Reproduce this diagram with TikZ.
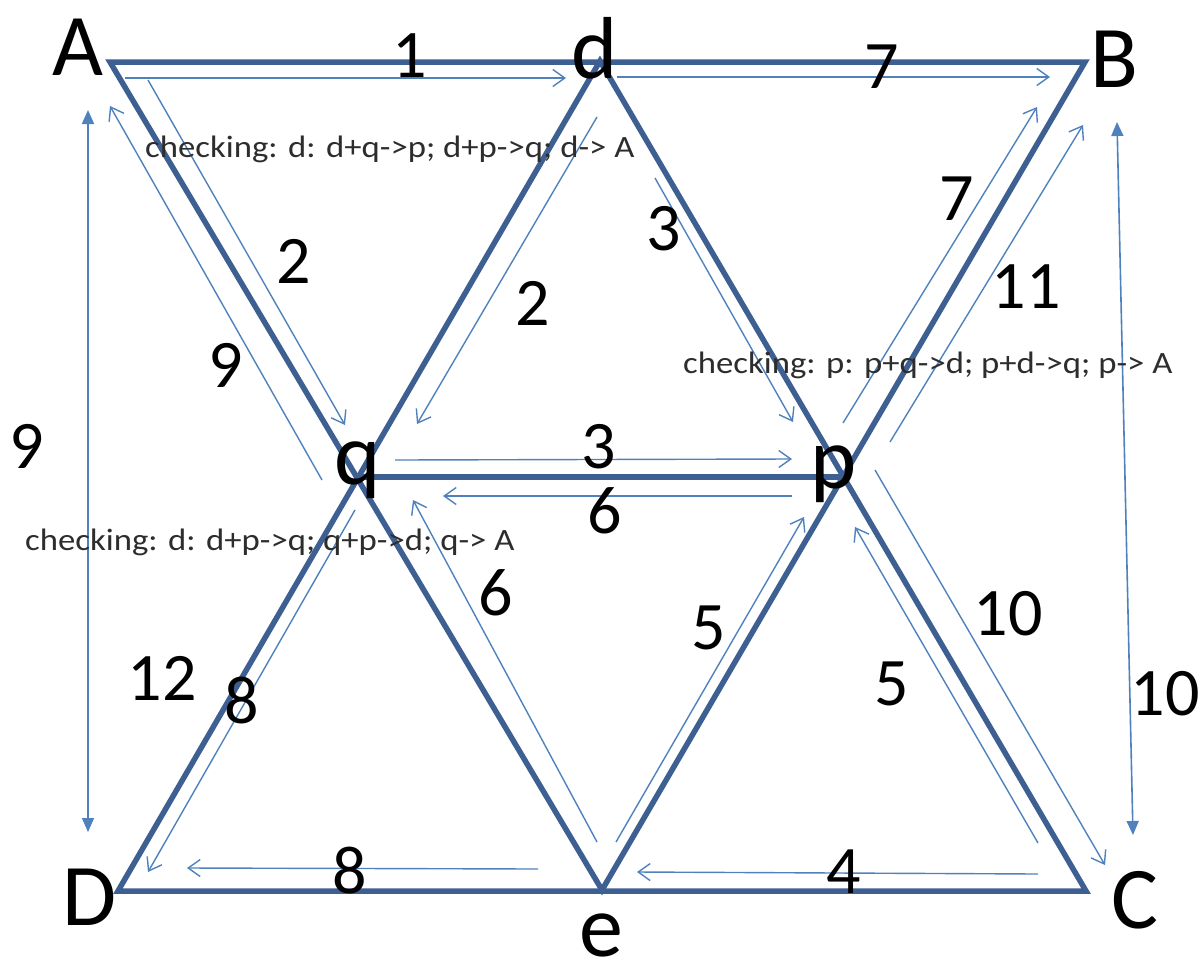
\documentclass[tikz,border=0pt]{standalone}
\usepackage{fontspec}
\setmainfont{Carlito}
\usetikzlibrary{arrows.meta}
\definecolor{thickc}{RGB}{62,95,145}
\definecolor{thinc}{RGB}{79,129,189}
\definecolor{notec}{RGB}{45,45,45}
\begin{document}
\begin{tikzpicture}[x=1pt,y=-1pt,
  edge/.style={draw=thickc,line width=5.5pt,line join=miter},
  flow/.style={draw=thinc,line width=1.4pt,-{Straight Barb[length=12pt,width=17pt,line width=1.4pt]}},
  span/.style={draw=thinc,line width=1.6pt,{Triangle[length=14pt,width=12pt]}-{Triangle[length=14pt,width=12pt]}},
  vlabel/.style={font=\fontsize{88}{88}\selectfont,inner sep=0pt,anchor=base},
  num/.style={font=\fontsize{68}{68}\selectfont,inner sep=0pt,anchor=base},
  note/.style={font=\fontsize{31}{31}\selectfont,text=notec,inner sep=0pt,anchor=base west}]
\useasboundingbox (0,0) rectangle (1202,967);

% vertices
\coordinate (vA) at (110,62);
\coordinate (vd) at (600,61);
\coordinate (vB) at (1085,62);
\coordinate (vq) at (357,477);
\coordinate (vp) at (843,477);
\coordinate (vD) at (118,891);
\coordinate (ve) at (602,890);
\coordinate (vC) at (1086,891);

% thick edges
\draw[edge] (vA) -- (vB) -- (ve) -- cycle;
\draw[edge] (vd) -- (vC) -- (vD) -- cycle;
\draw[edge] (vq) -- (vp);

% arrow end points
\coordinate (a1s) at (125,78);   \coordinate (a1e) at (566,78);
\coordinate (a2s) at (617,77);   \coordinate (a2e) at (1050,77);
\coordinate (a3s) at (148,80);   \coordinate (a3e) at (345,425);
\coordinate (a4s) at (322,480);  \coordinate (a4e) at (110,106);
\coordinate (a5s) at (597,117);  \coordinate (a5e) at (417,424);
\coordinate (a6s) at (655,178);  \coordinate (a6e) at (793,422);
\coordinate (a7s) at (395,460);  \coordinate (a7e) at (792,459);
\coordinate (a8s) at (792,496);  \coordinate (a8e) at (443,496);
\coordinate (a9s) at (597,842);  \coordinate (a9e) at (413,500);
\coordinate (a10s) at (616,842); \coordinate (a10e) at (804,517);
\coordinate (a11s) at (1038,843);\coordinate (a11e) at (855,527);
\coordinate (a12s) at (875,470); \coordinate (a12e) at (1105,865);
\coordinate (a13s) at (1038,874);\coordinate (a13e) at (637,872);
\coordinate (a14s) at (538,869); \coordinate (a14e) at (187,868);
\coordinate (a15s) at (355,510); \coordinate (a15e) at (148,872);
\coordinate (a16s) at (843,423); \coordinate (a16e) at (1037,107);
\coordinate (a17s) at (890,442); \coordinate (a17e) at (1083,125);
\coordinate (s1a) at (88,110);   \coordinate (s1b) at (88,832);
\coordinate (s2a) at (1117,122); \coordinate (s2b) at (1133,835);

% thin flow arrows
\draw[flow] (a1s) -- (a1e);
\draw[flow] (a2s) -- (a2e);
\draw[flow] (a3s) -- (a3e);
\draw[flow] (a4s) -- (a4e);
\draw[flow] (a5s) -- (a5e);
\draw[flow] (a6s) -- (a6e);
\draw[flow] (a7s) -- (a7e);
\draw[flow] (a8s) -- (a8e);
\draw[flow] (a9s) -- (a9e);
\draw[flow] (a10s) -- (a10e);
\draw[flow] (a11s) -- (a11e);
\draw[flow] (a12s) -- (a12e);
\draw[flow] (a13s) -- (a13e);
\draw[flow] (a14s) -- (a14e);
\draw[flow] (a15s) -- (a15e);
\draw[flow] (a16s) -- (a16e);
\draw[flow] (a17s) -- (a17e);
\draw[span] (s1a) -- (s1b);
\draw[span] (s2a) -- (s2b);

% vertex labels
\node[vlabel] (lA) at (78,75) {A};
\node[vlabel] (ld) at (595,78) {d};
\node[vlabel] (lB) at (1114,87) {B};
\node[vlabel] (lq) at (358,484) {q};
\node[vlabel] (lp) at (834,488) {p};
\node[vlabel] (lD) at (90,925) {D};
\node[vlabel] (le) at (601,956) {e};
\node[vlabel] (lC) at (1135,928) {C};

% numbers
\node[num] (n1) at (410,77) {1};
\node[num] (n7a) at (882,88) {7};
\node[num] (n7b) at (957,220) {7};
\node[num] (n11) at (1026,308) {11};
\node[num] (n9a) at (27,468) {9};
\node[num] (n9b) at (226,387) {9};
\node[num] (n2a) at (294,283) {2};
\node[num] (n2b) at (533,325) {2};
\node[num] (n3a) at (664,250) {3};
\node[num] (n3b) at (599,468) {3};
\node[num] (n6a) at (605,533) {6};
\node[num] (n6b) at (496,615) {6};
\node[num] (n5a) at (709,649) {5};
\node[num] (n5b) at (892,705) {5};
\node[num] (n10a) at (1008,635) {10};
\node[num] (n10b) at (1165,715) {10};
\node[num] (n12) at (162,700) {12};
\node[num] (n8a) at (242,723) {8};
\node[num] (n8b) at (350,893) {8};
\node[num] (n4) at (844,893) {4};

% notes
\node[note] (t1) at (145,157) {\scalebox{1.12}[1]{checking: d: d+q->p; d+p->q; d-> A}};
\node[note] (t2) at (683,373) {\scalebox{1.12}[1]{checking: p: p+q->d; p+d->q; p-> A}};
\node[note] (t3) at (25,550) {\scalebox{1.12}[1]{checking: d: d+p->q; q+p->d; q-> A}};
\end{tikzpicture}
\end{document}
